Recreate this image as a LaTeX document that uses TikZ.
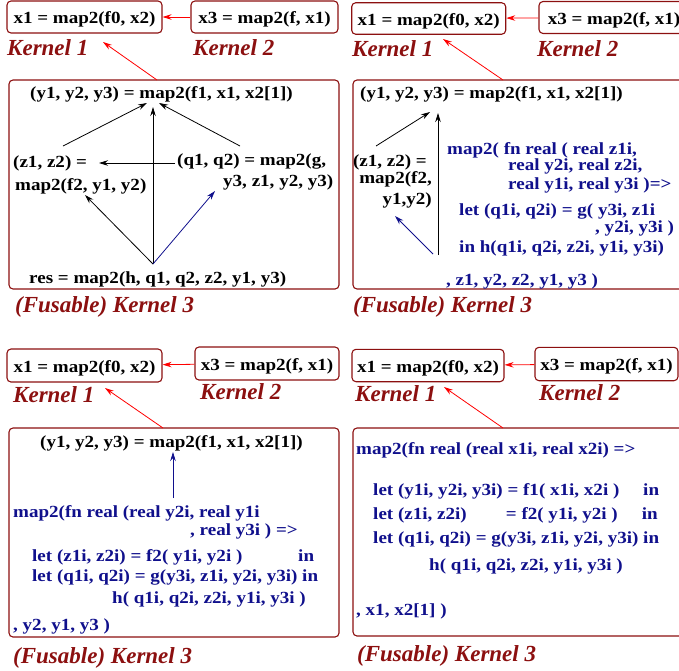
\documentclass[tikz,border=0pt]{standalone}
\usepackage{fontspec}
\setmainfont{Liberation Serif}
\newfontfamily\codefont[FakeStretch=1.12]{Liberation Serif}
\usetikzlibrary{arrows.meta}
\definecolor{kred}{RGB}{140,16,16}
\definecolor{kblue}{RGB}{16,16,140}

\begin{document}
\begin{tikzpicture}[x=1pt, y=-1pt,
    >={Stealth[length=9pt,width=5.5pt]},
    % Styles
    kbox/.style={draw=kred, line width=1.1pt, rounded corners=4pt, inner sep=0pt,
                 text height=13pt, text depth=0pt,
                 font=\codefont\bfseries\fontsize{17}{20}\selectfont},
    outer/.style={draw=kred, line width=1.1pt, rounded corners=4pt, inner sep=0pt},
    klabel/.style={anchor=base west, inner sep=0pt, text=kred,
                   font=\fontsize{23}{26}\selectfont\bfseries\itshape},
    code/.style={anchor=base west, inner sep=0pt,
                 font=\codefont\bfseries\fontsize{17}{20}\selectfont},
    bcode/.style={code, text=kblue},
    redarrow/.style={->, red, line width=0.8pt},
    blkarrow/.style={->, black, line width=0.8pt},
    bluarrow/.style={->, kblue, line width=0.8pt},
  ]
  \useasboundingbox (0,0) rectangle (679,670);
  \clip (0,0) rectangle (679,670);

  % ---------------- top left: unfused ----------------
  \node[kbox, minimum width=155pt, minimum height=32pt] (k1a) at (84.5,17) {x1 = map2(f0, x2)};
  \node[kbox, minimum width=147pt, minimum height=32pt] (k2a) at (264.5,17) {x3 = map2(f, x1)};
  \node[klabel] (l1a) at (7,55) {Kernel 1};
  \node[klabel] (l2a) at (193,55) {Kernel 2};
  \node[outer, minimum width=330pt, minimum height=209pt] (k3a) at (174,184.5) {};
  \node[klabel] (l3a) at (15,312) {(Fusable) Kernel 3};

  \node[code] (ya) at (30,98) {(y1, y2, y3) = map2(f1, x1, x2[1])};
  \node[code] (za1) at (13,167) {(z1, z2) =};
  \node[code] (za2) at (15,190) {map2(f2, y1, y2)};
  \node[code] (qa1) at (177,165) {(q1, q2) = map2(g,};
  \node[code] (qa2) at (223,186) {y3, z1, y2, y3)};
  \node[code] (resa) at (29,283) {res = map2(h, q1, q2, z2, y1, y3)};

  \coordinate (s3a) at (157,80);
  \coordinate (e1a) at (103,42);
  \coordinate (forka) at (153,264);
  \coordinate (va) at (153,107);
  \coordinate (zsa) at (63,146);
  \coordinate (yla) at (147,103);
  \coordinate (qsa) at (240,146);
  \coordinate (yra) at (159,103);
  \coordinate (hsa) at (175,163);
  \coordinate (hea) at (99,163);
  \coordinate (zea) at (85,195);
  \coordinate (qea) at (215,191);

  \draw[redarrow] (k2a) -- (k1a);
  \draw[redarrow] (s3a) -- (e1a);
  \draw[blkarrow] (forka) -- (va);
  \draw[blkarrow] (zsa) -- (yla);
  \draw[blkarrow] (qsa) -- (yra);
  \draw[blkarrow] (hsa) -- (hea);
  \draw[blkarrow] (forka) -- (zea);
  \draw[bluarrow] (forka) -- (qea);

  % ---------------- top right: g and h fused ----------------
  \node[kbox, minimum width=154pt, minimum height=31.5pt] (k1b) at (428.7,18.5) {x1 = map2(f0, x2)};
  \node[kbox, minimum width=150pt, minimum height=32pt] (k2b) at (614,17.5) {x3 = map2(f, x1)};
  \node[klabel] (l1b) at (352,56.5) {Kernel 1};
  \node[klabel] (l2b) at (537,56) {Kernel 2};
  \node[outer, minimum width=340pt, minimum height=209pt] (k3b) at (523,184.5) {};
  \node[klabel] (l3b) at (353,312.5) {(Fusable) Kernel 3};

  \node[code] (yb) at (360,98) {(y1, y2, y3) = map2(f1, x1, x2[1])};
  \node[code, anchor=base east] (zb1) at (427,166) {(z1, z2) =};
  \node[code, anchor=base east] (zb2) at (432,183) {map2(f2,};
  \node[code, anchor=base east] (zb3) at (432,204) {y1,y2)};

  \node[bcode] (fb1) at (447,154) {map2( fn real ( real z1i,};
  \node[bcode] (fb2) at (508,170) {real y2i, real z2i,};
  \node[bcode] (fb3) at (508,189) {real y1i, real y3i )=>};
  \node[bcode] (fb4) at (459,215) {let (q1i, q2i) = g( y3i, z1i};
  \node[bcode] (fb5) at (595,232) {, y2i, y3i )};
  \node[bcode] (fb6) at (459,252) {in h(q1i, q2i, z2i, y1i, y3i)};
  \node[bcode] (fb7) at (446,285) {, z1, y2, z2, y1, y3 )};

  \coordinate (s3b) at (503,80);
  \coordinate (e1b) at (443,39);
  \coordinate (zsb) at (376,146);
  \coordinate (ylb) at (430,112);
  \coordinate (vsb) at (438,255);
  \coordinate (veb) at (438,113);
  \coordinate (fsb) at (433,254);
  \coordinate (zeb) at (395,216);

  \draw[redarrow] (k2b) -- (k1b);
  \draw[redarrow] (s3b) -- (e1b);
  \draw[blkarrow] (zsb) -- (ylb);
  \draw[blkarrow] (vsb) -- (veb);
  \draw[bluarrow] (fsb) -- (zeb);

  % ---------------- bottom left: f2, g and h fused ----------------
  \node[kbox, minimum width=155pt, minimum height=33pt] (k1c) at (84.5,365.5) {x1 = map2(f0, x2)};
  \node[kbox, minimum width=144pt, minimum height=33pt] (k2c) at (267,363.5) {x3 = map2(f, x1)};
  \node[klabel] (l1c) at (13,402) {Kernel 1};
  \node[klabel] (l2c) at (200,399.5) {Kernel 2};
  \node[outer, minimum width=330pt, minimum height=209pt] (k3c) at (174,532.5) {};
  \node[klabel] (l3c) at (13,663) {(Fusable) Kernel 3};

  \node[code] (yc) at (40,447) {(y1, y2, y3) = map2(f1, x1, x2[1])};
  \node[bcode] (fc1) at (13,517) {map2(fn real (real y2i, real y1i};
  \node[bcode] (fc2) at (190,535) {, real y3i ) =>};
  \node[bcode] (fc3) at (32,561) {\makebox[266pt][l]{let (z1i, z2i) = f2( y1i, y2i )}in};
  \node[bcode] (fc4) at (32,581) {let (q1i, q2i) = g(y3i, z1i, y2i, y3i) in};
  \node[bcode] (fc5) at (112,603.5) {h( q1i, q2i, z2i, y1i, y3i )};
  \node[bcode] (fc6) at (13,630) {, y2, y1, y3 )};

  \coordinate (s3c) at (163,428);
  \coordinate (e1c) at (105,388);
  \coordinate (vsc) at (173,498);
  \coordinate (vec) at (173,452);

  \draw[redarrow] (k2c) -- (k1c);
  \draw[redarrow] (s3c) -- (e1c);
  \draw[bluarrow] (vsc) -- (vec);

  % ---------------- bottom right: all fused ----------------
  \node[kbox, minimum width=152pt, minimum height=32.4pt] (k1d) at (428,365.5) {x1 = map2(f0, x2)};
  \node[kbox, minimum width=143pt, minimum height=33.4pt] (k2d) at (606.5,364) {x3 = map2(f, x1)};
  \node[klabel] (l1d) at (355,401.7) {Kernel 1};
  \node[klabel] (l2d) at (539,400) {Kernel 2};
  \node[outer, minimum width=340pt, minimum height=208pt] (k3d) at (523,532) {};
  \node[klabel] (l3d) at (357,661.7) {(Fusable) Kernel 3};

  \node[bcode] (fd1) at (356,454) {map2(fn real (real x1i, real x2i) =>};
  \node[bcode] (fd2) at (373,495.7) {\makebox[270pt][l]{let (y1i, y2i, y3i) = f1( x1i, x2i )}in};
  \node[bcode] (fd3) at (373,519.3) {\makebox[132.7pt][l]{let (z1i, z2i)}\makebox[136pt][l]{= f2( y1i, y2i )}in};
  \node[bcode] (fd4) at (373,543.3) {let (q1i, q2i) = g(y3i, z1i, y2i, y3i) in};
  \node[bcode] (fd5) at (429,570) {h( q1i, q2i, z2i, y1i, y3i )};
  \node[bcode] (fd6) at (356,615) {, x1, x2[1] )};

  \coordinate (s3d) at (503,428);
  \coordinate (e1d) at (444,387);

  \draw[redarrow] (k2d) -- (k1d);
  \draw[redarrow] (s3d) -- (e1d);

\end{tikzpicture}
\end{document}
